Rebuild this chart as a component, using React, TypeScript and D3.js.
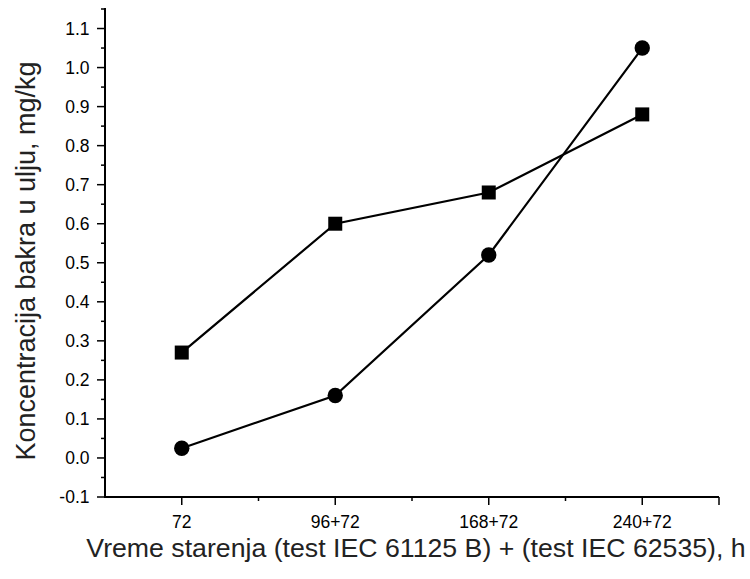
import React from "react";
import * as d3 from "d3";

const categories = ["72", "96+72", "168+72", "240+72"];
const squareSeries = [0.27, 0.6, 0.68, 0.88];
const circleSeries = [0.025, 0.16, 0.52, 1.05];
const yTicks = [-0.1, 0, 0.1, 0.2, 0.3, 0.4, 0.5, 0.6, 0.7, 0.8, 0.9, 1.0, 1.1];
const yMinorTicks = [-0.05, 0.05, 0.15, 0.25, 0.35, 0.45, 0.55, 0.65, 0.75, 0.85, 0.95, 1.05, 1.15];
const xMinorTicks = [0.5, 1.5, 2.5];
const xLabel = "Vreme starenja (test IEC 61125 B) + (test IEC 62535), h";
const yLabel = "Koncentracija bakra u ulju, mg/kg";

export default function App() {
  const W = 750, H = 579;
  const left = 105, right = 719, top = 9, bottom = 497;
  const x = d3.scaleLinear().domain([-0.5, 3.5]).range([left, right]);
  const y = d3.scaleLinear().domain([-0.1, 1.15]).range([bottom, top]);
  const line = d3.line<number>().x((_, i) => x(i)).y((d) => y(d));
  const font = "Liberation Sans, Arial, sans-serif";
  const col = "#000";
  return (
    <svg width={W} height={H} style={{ position: "absolute", left: 0, top: 0, background: "#fff" }}>
      <rect width={W} height={H} fill="#fff" />
      {/* axes */}
      <line x1={left} x2={left} y1={top - 1} y2={bottom + 1} stroke={col} strokeWidth={2} />
      <line x1={left - 1} x2={right} y1={bottom} y2={bottom} stroke={col} strokeWidth={2} />
      {yTicks.map((t) => (
        <g key={"y" + t}>
          <line x1={left - 8} x2={left} y1={y(t)} y2={y(t)} stroke={col} strokeWidth={1.5} />
          <text x={left - 15.5} y={y(t)} dy="0.36em" textAnchor="end" fontFamily={font} fontSize={17.5} fill={col}>
            {d3.format(".1f")(t).replace("−", "-")}
          </text>
        </g>
      ))}
      {yMinorTicks.map((t) => (
        <line key={"ym" + t} x1={left - 4} x2={left} y1={y(t)} y2={y(t)} stroke={col} strokeWidth={1.5} />
      ))}
      {categories.map((c, i) => (
        <g key={c}>
          <line x1={x(i)} x2={x(i)} y1={bottom} y2={bottom + 8} stroke={col} strokeWidth={1.5} />
          <text x={x(i)} y={bottom + 31} textAnchor="middle" fontFamily={font} fontSize={17.5} fill={col}>
            {c}
          </text>
        </g>
      ))}
      {xMinorTicks.map((t) => (
        <line key={"xm" + t} x1={x(t)} x2={x(t)} y1={bottom} y2={bottom + 4} stroke={col} strokeWidth={1.5} />
      ))}
      <line x1={right} x2={right} y1={bottom} y2={bottom + 8} stroke={col} strokeWidth={1.5} />
      {/* series */}
      <path d={line(squareSeries) || ""} fill="none" stroke={col} strokeWidth={2.2} />
      <path d={line(circleSeries) || ""} fill="none" stroke={col} strokeWidth={2.2} />
      {squareSeries.map((v, i) => (
        <rect key={"s" + i} x={x(i) - 7} y={y(v) - 7} width={14} height={14} fill={col} />
      ))}
      {circleSeries.map((v, i) => (
        <circle key={"c" + i} cx={x(i)} cy={y(v)} r={7.7} fill={col} />
      ))}
      {/* labels */}
      <text x={416} y={557} textAnchor="middle" fontFamily={font} fontSize={26.7} fill="#222">
        {xLabel}
      </text>
      <text
        transform={`translate(35, 261) rotate(-90)`}
        textAnchor="middle"
        fontFamily={font}
        fontSize={27}
        fill="#222"
      >
        {yLabel}
      </text>
    </svg>
  );
}
